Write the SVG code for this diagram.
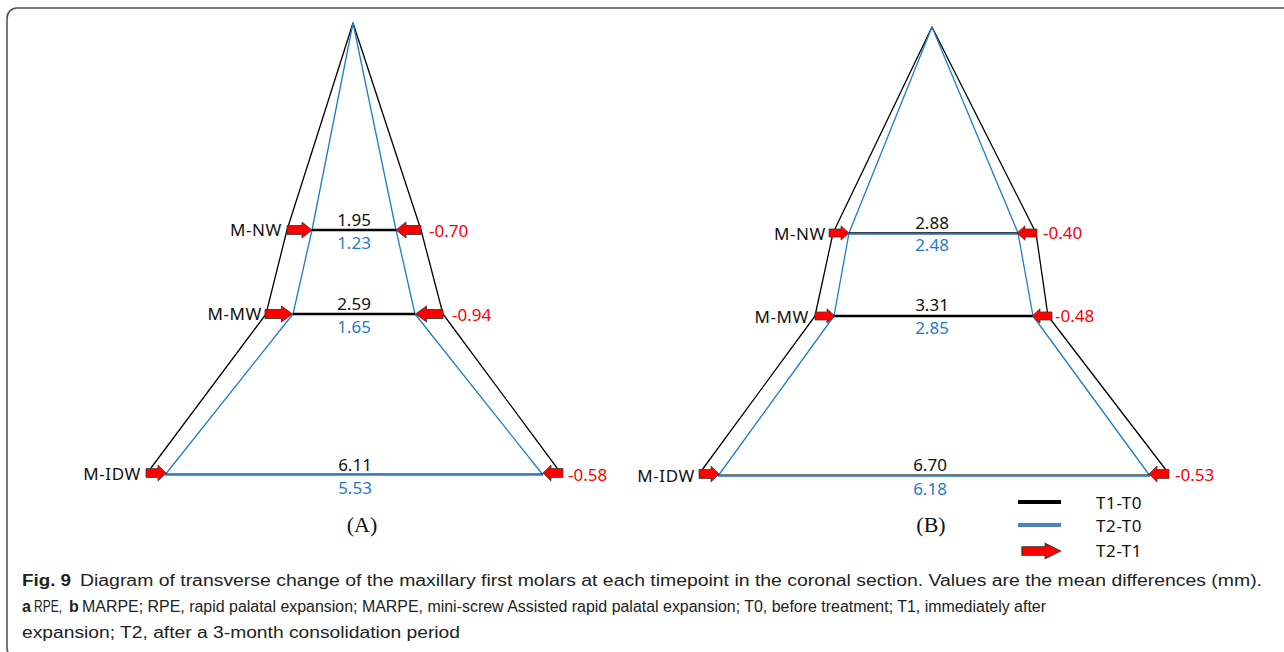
<svg xmlns="http://www.w3.org/2000/svg" width="1284" height="652" viewBox="0 0 1284 652">
<style>
.blk{fill:none;stroke:#000;stroke-width:1.3;stroke-linejoin:round}
.blu{fill:none;stroke:#1f7ccc;stroke-width:1.3;stroke-linejoin:round}
.hb{stroke:#000;stroke-width:2.6}
.hbl{stroke:#1f7ccc;stroke-width:1.5}
.lab{font-family:"Noto Sans","Liberation Sans",sans-serif;font-size:17px;fill:#111;letter-spacing:0.6px}
.vb{font-family:"Noto Sans","Liberation Sans",sans-serif;font-size:17px;fill:#111;text-anchor:middle}
.vl{font-family:"Noto Sans","Liberation Sans",sans-serif;font-size:17px;fill:#1f7ccc;text-anchor:middle}
.red{font-family:"Noto Sans","Liberation Sans",sans-serif;font-size:17px;fill:#ff0000}
.pan{font-family:"Liberation Serif",serif;font-size:22px;fill:#111;text-anchor:middle}
.cap{font-family:"Liberation Sans",sans-serif;font-size:16px;fill:#222}
.arr{fill:#ff0000;stroke:#333;stroke-width:0.8}
</style>
<defs>
<path id="ar" d="M0,-4.5 H15 V-8 L25,0 L15,8 V4.5 H0 Z"/>
</defs>
<rect x="7" y="8" width="1300" height="650" rx="10" fill="none" stroke="#555" stroke-width="1.6"/>
<g id="connectors">
<polyline class="blk" points="148,472 266,314 287,230 353,23 421,230 443,314 560,472"/>
<polyline class="blu" points="165,475 293,314 312,230 353,23 396,230 415,314 543,475"/>
<line class="hb" x1="312" y1="230" x2="396" y2="230"/>
<line class="hb" x1="293" y1="314" x2="415" y2="314"/>
<line x1="165" y1="474" x2="543" y2="474" stroke="#000" stroke-width="1.2"/>
<line class="hbl" x1="165" y1="475" x2="543" y2="475"/>
<polyline class="blk" points="702,470 815,316 833,233 932,27 1036,233 1048,316 1166,470"/>
<polyline class="blu" points="718,476 834,316 849,233 932,27 1018,233 1033,316 1150,476"/>
<line x1="849" y1="233" x2="1018" y2="233" stroke="#000" stroke-width="1.4"/>
<line class="hbl" x1="849" y1="234" x2="1018" y2="234"/>
<line class="hb" x1="834" y1="316" x2="1033" y2="316"/>
<line x1="718" y1="475" x2="1150" y2="475" stroke="#000" stroke-width="1"/>
<line class="hbl" x1="718" y1="476" x2="1150" y2="476"/>
</g>
<g id="arrows">
<use href="#ar" class="arr" transform="translate(287,230)"/>
<use href="#ar" class="arr" transform="translate(421,230) scale(-1,1)"/>
<use href="#ar" class="arr" transform="translate(265,314) scale(1.1,1)"/>
<use href="#ar" class="arr" transform="translate(443,314) scale(-1.1,1)"/>
<use href="#ar" class="arr" transform="translate(146,473) scale(0.8,1)"/>
<use href="#ar" class="arr" transform="translate(563,473) scale(-0.8,1)"/>
<use href="#ar" class="arr" transform="translate(829,233) scale(0.8,0.9)"/>
<use href="#ar" class="arr" transform="translate(1037,233) scale(-0.8,0.9)"/>
<use href="#ar" class="arr" transform="translate(815,316) scale(0.8,0.9)"/>
<use href="#ar" class="arr" transform="translate(1052,316) scale(-0.8,0.9)"/>
<use href="#ar" class="arr" transform="translate(699,474) scale(0.8,1)"/>
<use href="#ar" class="arr" transform="translate(1169,474) scale(-0.8,1)"/>
</g>
<g id="panelA-labels">
<text class="lab" x="282" y="236" text-anchor="end">M-NW</text>
<text class="lab" x="262" y="320" text-anchor="end">M-MW</text>
<text class="lab" x="141" y="480" text-anchor="end">M-IDW</text>
<text class="red" x="429" y="237">-0.70</text>
<text class="red" x="452" y="321">-0.94</text>
<text class="red" x="568" y="481">-0.58</text>
<text class="vb" x="354" y="226">1.95</text>
<text class="vl" x="354" y="249">1.23</text>
<text class="vb" x="354" y="310">2.59</text>
<text class="vl" x="354" y="333">1.65</text>
<text class="vb" x="355" y="471">6.11</text>
<text class="vl" x="355" y="494">5.53</text>
<text class="pan" x="362" y="532">(A)</text>
</g>
<g id="panelB-labels">
<text class="lab" x="826" y="240" text-anchor="end">M-NW</text>
<text class="lab" x="809" y="323" text-anchor="end">M-MW</text>
<text class="lab" x="695" y="482" text-anchor="end">M-IDW</text>
<text class="red" x="1043" y="239">-0.40</text>
<text class="red" x="1055" y="322">-0.48</text>
<text class="red" x="1175" y="481">-0.53</text>
<text class="vb" x="932" y="229">2.88</text>
<text class="vl" x="932" y="251">2.48</text>
<text class="vb" x="932" y="311">3.31</text>
<text class="vl" x="932" y="334">2.85</text>
<text class="vb" x="930" y="471">6.70</text>
<text class="vl" x="930" y="495">6.18</text>
<text class="pan" x="931" y="532">(B)</text>
</g>
<g id="legend">
<line x1="1018" y1="502" x2="1061" y2="502" stroke="#000" stroke-width="4"/>
<line x1="1018" y1="525" x2="1061" y2="525" stroke="#4f81bd" stroke-width="4"/>
<use href="#ar" class="arr" transform="translate(1022,551) scale(1.55,0.95)"/>
<text class="lab" x="1096" y="509">T1-T0</text>
<text class="lab" x="1096" y="532">T2-T0</text>
<text class="lab" x="1096" y="557">T2-T1</text>
</g>
<g id="caption">
<text class="cap" x="22" y="586" font-weight="bold" textLength="49" lengthAdjust="spacingAndGlyphs">Fig. 9</text>
<text class="cap" x="80" y="586" textLength="1182" lengthAdjust="spacingAndGlyphs">Diagram of transverse change of the maxillary first molars at each timepoint in the coronal section. Values are the mean differences (mm).</text>
<text class="cap" x="22" y="612" font-weight="bold">a</text>
<text class="cap" x="34" y="612" textLength="28" lengthAdjust="spacingAndGlyphs">RPE,</text>
<text class="cap" x="69" y="612" font-weight="bold">b</text>
<text class="cap" x="82" y="612" textLength="964" lengthAdjust="spacingAndGlyphs">MARPE; RPE, rapid palatal expansion; MARPE, mini-screw Assisted rapid palatal expansion; T0, before treatment; T1, immediately after</text>
<text class="cap" x="22" y="638" textLength="438" lengthAdjust="spacingAndGlyphs">expansion; T2, after a 3-month consolidation period</text>
</g>
</svg>
